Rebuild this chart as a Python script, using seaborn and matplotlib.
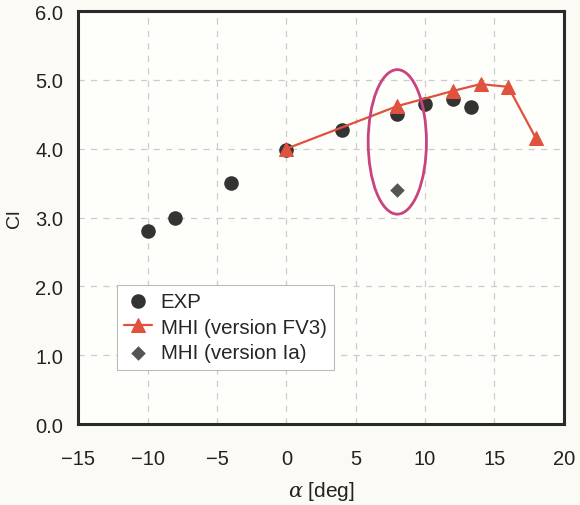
import matplotlib
matplotlib.use('Agg')
import matplotlib.pyplot as plt
from matplotlib.patches import Ellipse
import seaborn as sns
import pandas as pd

# EXP data
exp_alpha = [-10, -8, -4, 0, 4, 8, 10, 12, 13.3]
exp_cl = [2.8, 3.0, 3.5, 3.98, 4.27, 4.5, 4.65, 4.72, 4.6]

# MHI (version FV3)
fv3_alpha = [0, 8, 12, 14, 16, 18]
fv3_cl = [4.0, 4.62, 4.84, 4.94, 4.9, 4.15]

# MHI (version Ia)
ia_alpha = [8]
ia_cl = [3.4]

sns.set_style("whitegrid")
plt.rcParams['font.family'] = ['Liberation Sans', 'DejaVu Sans']
plt.rcParams['mathtext.fontset'] = 'dejavuserif'

fig, ax = plt.subplots(figsize=(5.8, 5.06), dpi=100)
fig.patch.set_facecolor('#fbfaf4')
ax.set_facecolor('#fefefb')
fig.subplots_adjust(left=0.135, right=0.972, top=0.976, bottom=0.16)

df_exp = pd.DataFrame({'alpha': exp_alpha, 'cl': exp_cl})
df_fv3 = pd.DataFrame({'alpha': fv3_alpha, 'cl': fv3_cl})
df_ia = pd.DataFrame({'alpha': ia_alpha, 'cl': ia_cl})

sns.scatterplot(data=df_exp, x='alpha', y='cl', ax=ax, color='#333333', s=110,
                marker='o', edgecolor='#333333', linewidth=0, label='EXP', zorder=3)
sns.lineplot(data=df_fv3, x='alpha', y='cl', ax=ax, color='#e0513e', marker='^',
             markersize=10, markeredgecolor='#e0513e', linewidth=1.6,
             label='MHI (version FV3)', zorder=4)
sns.scatterplot(data=df_ia, x='alpha', y='cl', ax=ax, color='#555555', s=55,
                marker='D', edgecolor='#555555', linewidth=0,
                label='MHI (version Ia)', zorder=3)

# highlight ellipse
ell = Ellipse((8.0, 4.1), width=4.2, height=2.1, fill=False,
              edgecolor='#c8447e', linewidth=2.0, zorder=5)
ax.add_patch(ell)

ax.set_xlim(-15, 20)
ax.set_ylim(0, 6)
ax.set_xticks(range(-15, 21, 5))
ax.set_yticks([0, 1, 2, 3, 4, 5, 6])
ax.set_yticklabels([f"{v:.1f}" for v in [0, 1, 2, 3, 4, 5, 6]])

ax.grid(True, linestyle=(0, (5, 5)), color='#cccccc', linewidth=0.9)
for sp in ax.spines.values():
    sp.set_visible(True)
    sp.set_color('#2a2a2a')
    sp.set_linewidth(2.2)

ax.tick_params(axis='both', direction='in', length=5, width=2, color='#2a2a2a',
               labelsize=14.5, labelcolor='#222222')
ax.tick_params(axis='x', pad=18)
ax.tick_params(axis='y', pad=11)
ax.set_xlabel(r"$\alpha$ [deg]", fontsize=15, color='#222222', labelpad=8)
ax.set_ylabel("Cl", fontsize=14, color='#222222', labelpad=9)

leg = ax.legend(loc='lower left', bbox_to_anchor=(0.066, 0.117), fontsize=14.8,
                frameon=True, fancybox=False, framealpha=1, borderpad=0.35,
                handlelength=1.4, handletextpad=0.4, labelspacing=0.33,
                borderaxespad=0.3)
leg.get_frame().set_edgecolor('#bbbbbb')
leg.get_frame().set_linewidth(0.8)

fig.savefig('out.png', dpi=100, facecolor=fig.get_facecolor())
